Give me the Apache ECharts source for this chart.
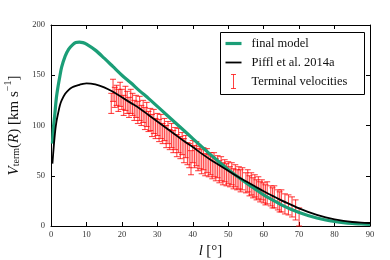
<!DOCTYPE html>
<html>
<head>
<meta charset="utf-8">
<script src="https://cdn.jsdelivr.net/npm/echarts@6/dist/echarts.min.js"></script>
<style>
html,body{margin:0;padding:0;background:#fff;}
#chart{width:390px;height:260px;}
</style>
</head>
<body>
<div id="chart"></div>
<script>
// Model curves
const modelL   = [0.4, 0.7, 1.1, 1.5, 2, 2.5, 3, 4, 5, 6, 7, 8, 9, 10, 12.5, 15, 17.5, 20, 22.5, 25, 27.5, 30, 32.5, 35, 37.5, 40, 42.5, 45, 47.5, 50, 52.5, 55, 57.5, 60, 62.5, 65, 67.5, 70, 72.5, 75, 77.5, 80, 82.5, 85, 87.5, 90];
const finalV   = [82, 98, 112, 127, 139, 149, 158, 169, 176, 180, 182.5, 183, 182.5, 181, 175, 167, 158.5, 150, 142.5, 134.5, 127, 119, 111, 103, 95, 87, 79, 71, 63.5, 56, 49.5, 43, 37, 31, 26, 21, 17, 13.5, 10.5, 8, 6, 4.5, 3.3, 2.5, 2, 1.5];
const pifflL   = [0.4, 0.8, 1.2, 1.6, 2, 2.5, 3, 4, 5, 6, 7, 8, 9, 10, 12.5, 15, 17.5, 20, 22.5, 25, 27.5, 30, 32.5, 35, 37.5, 40, 42.5, 45, 47.5, 50, 52.5, 55, 57.5, 60, 62.5, 65, 67.5, 70, 72.5, 75, 77.5, 80, 82.5, 85, 87.5, 90];
const pifflV   = [62, 80, 95, 105, 112, 120, 125, 131.5, 135.5, 138, 139.5, 140.5, 141.5, 142, 141, 138, 133.5, 128, 122.5, 117, 110.5, 104, 97.5, 91, 84.5, 78.5, 72, 66, 60.5, 55, 49.5, 44.5, 39.5, 34.5, 30, 25.5, 21.5, 17.5, 14, 11, 8.5, 6.5, 5, 4, 3.4, 3];

// Terminal velocities (longitude, velocity, error)
const termL = [17.0,17.5,18.0,18.5,19.0,19.5,20.0,20.5,21.0,21.5,22.0,22.5,23.0,23.5,24.0,24.5,25.0,25.5,26.0,26.5,27.0,27.5,28.0,28.5,29.0,29.5,30.0,30.5,31.0,31.5,32.0,32.5,33.0,33.5,34.0,34.5,35.0,35.5,36.0,36.5,37.0,37.5,38.0,38.5,39.0,39.5,40.0,40.5,41.0,41.5,42.0,42.5,43.0,43.5,44.0,44.5,45.0,45.5,46.0,46.5,47.0,47.5,48.0,48.5,49.0,49.5,50.0,50.5,51.0,51.5,52.0,52.5,53.0,53.5,54.0,55.0,55.5,56.0,56.5,57.0,57.5,58.0,58.5,59.0,59.5,60.0,60.5,61.0,62.0,62.5,63.0,64.0,64.5,65.0,66.0,67.0,68.0,69.0,70.0];
const termV = [122,135,128,130,125,131,126,120,127,123,118,124,121,115,119,113,117,110,114,107,111,104,106,100,104,97,101,95,99,92,96,89,93,86,90,84,87,80,85,78,82,75,79,72,70,63,74,69,72,66,68,64,67,61,65,60,62,58,61,56,59,54,57,52,55,51,53,49,52,47,50,46,48,45,47,43,45,40,42,38,40,36,38,34,36,33,31,33,30,28,29,26,24,25,22,21,19,16,9];
const termE = [10,11,10,10,11,12,10,10,12,11,10,12,11,10,11,11,12,10,11,11,12,10,11,11,12,10,11,11,12,10,11,11,11,10,12,11,11,11,12,11,11,12,11,11,12,12,11,11,12,11,11,12,11,11,12,11,11,11,12,11,11,11,12,11,11,11,11,10,11,10,11,10,11,11,11,10,11,10,11,10,11,10,11,10,10,10,10,11,10,10,11,10,10,11,10,10,10,10,9];

const xTicks = [0,10,20,30,40,50,60,70,80,90];
const yTicks = [0,50,100,150,200];

const SERIF = "'Liberation Serif','DejaVu Serif',serif";
const GREEN = '#1b9e77';

const zip = (a,b) => a.map((v,i)=>[v,b[i]]);
const errData = termL.map((l,i)=>[l, termV[i], termE[i]]);

const chart = echarts.init(document.getElementById('chart'), null, {renderer:'canvas'});

const axisCommon = {
  axisLine:{show:true, onZero:false, lineStyle:{color:'#000', width:1}},
  axisTick:{show:true, inside:true, length:4, lineStyle:{color:'#000', width:1}},
  splitLine:{show:false}
};

chart.setOption({
  animation:false,
  backgroundColor:'#fff',
  grid:{left:51, right:20, top:25, bottom:34, containLabel:false, outerBoundsMode:'none'},
  xAxis:[
    Object.assign({type:'value', position:'bottom', min:xTicks[0], max:xTicks[xTicks.length-1], interval:10,
      axisLabel:{show:true, color:'#333', fontFamily:SERIF, fontSize:8.5, margin:4},
      name:'{i|l} {n|[°]}', nameLocation:'middle', nameGap:17,
      nameTextStyle:{rich:{i:{fontFamily:SERIF, fontStyle:'italic', fontSize:15, color:'#111'}, n:{fontFamily:SERIF, fontSize:15, color:'#111'}}}
    }, axisCommon),
    Object.assign({type:'value', position:'top', min:xTicks[0], max:xTicks[xTicks.length-1], interval:10,
      axisLabel:{show:false}}, axisCommon)
  ],
  yAxis:[
    Object.assign({type:'value', position:'left', min:yTicks[0], max:yTicks[yTicks.length-1], interval:50,
      axisLabel:{show:true, color:'#333', fontFamily:SERIF, fontSize:8.5, margin:6},
      name:'{i|V}{sub|term}{n|(}{i|R}{n|) [km s}{sup|−1}{n|]}', nameLocation:'middle', nameGap:27, nameRotate:90,
      nameTextStyle:{rich:{
        i:{fontFamily:SERIF, fontStyle:'italic', fontSize:15, color:'#111', lineHeight:18, verticalAlign:'bottom'},
        n:{fontFamily:SERIF, fontSize:15, color:'#111', lineHeight:18, verticalAlign:'bottom'},
        sub:{fontFamily:SERIF, fontSize:10, color:'#111', lineHeight:12, verticalAlign:'bottom'},
        sup:{fontFamily:SERIF, fontSize:10, color:'#111', lineHeight:12, verticalAlign:'top'}
      }}
    }, axisCommon),
    Object.assign({type:'value', position:'right', min:yTicks[0], max:yTicks[yTicks.length-1], interval:50,
      axisLabel:{show:false}}, axisCommon)
  ],
  series:[
    {type:'custom', name:'Terminal velocities', xAxisIndex:0, yAxisIndex:0, data:errData,
     encode:{x:0, y:1}, z:2,
     renderItem:function(params, api){
       const x = api.value(0), v = api.value(1), e = api.value(2);
       const t = api.coord([x, v+e]), b = api.coord([x, v-e]);
       const hw = 3;
       const st = {stroke:'rgba(255,0,0,0.72)', lineWidth:1.1};
       return {type:'group', children:[
         {type:'line', shape:{x1:t[0], y1:t[1], x2:b[0], y2:b[1]}, style:st},
         {type:'line', shape:{x1:t[0]-hw, y1:t[1], x2:t[0]+hw, y2:t[1]}, style:st},
         {type:'line', shape:{x1:b[0]-hw, y1:b[1], x2:b[0]+hw, y2:b[1]}, style:st}
       ]};
     }
    },
    {type:'line', name:'final model', data:zip(modelL, finalV), smooth:0.3, showSymbol:false, symbol:'none',
     lineStyle:{color:GREEN, width:3.2}, z:3},
    {type:'line', name:'Piffl et al. 2014a', data:zip(pifflL, pifflV), smooth:0.3, showSymbol:false, symbol:'none',
     lineStyle:{color:'#000', width:1.8}, z:4}
  ],
  graphic:[
    {type:'group', left:220, top:32, z:100, children:[
      {type:'rect', shape:{x:0, y:0, width:144, height:62}, style:{fill:'#fff', stroke:'#000', lineWidth:1}},
      {type:'line', shape:{x1:5, y1:11, x2:21, y2:11}, style:{stroke:GREEN, lineWidth:3.2}},
      {type:'text', x:31, y:11, style:{text:'final model', fontFamily:SERIF, fontSize:12.5, fill:'#111', verticalAlign:'middle'}},
      {type:'line', shape:{x1:5, y1:30, x2:21, y2:30}, style:{stroke:'#000', lineWidth:1.8}},
      {type:'text', x:31, y:30, style:{text:'Piffl et al. 2014a', fontFamily:SERIF, fontSize:12.5, fill:'#111', verticalAlign:'middle'}},
      {type:'line', shape:{x1:13, y1:42, x2:13, y2:56}, style:{stroke:'rgba(255,0,0,0.75)', lineWidth:1}},
      {type:'line', shape:{x1:10.5, y1:42, x2:15.5, y2:42}, style:{stroke:'rgba(255,0,0,0.75)', lineWidth:1}},
      {type:'line', shape:{x1:10.5, y1:56, x2:15.5, y2:56}, style:{stroke:'rgba(255,0,0,0.75)', lineWidth:1}},
      {type:'text', x:31, y:49, style:{text:'Terminal velocities', fontFamily:SERIF, fontSize:12.5, fill:'#111', verticalAlign:'middle'}}
    ]}
  ]
});
</script>
</body>
</html>
